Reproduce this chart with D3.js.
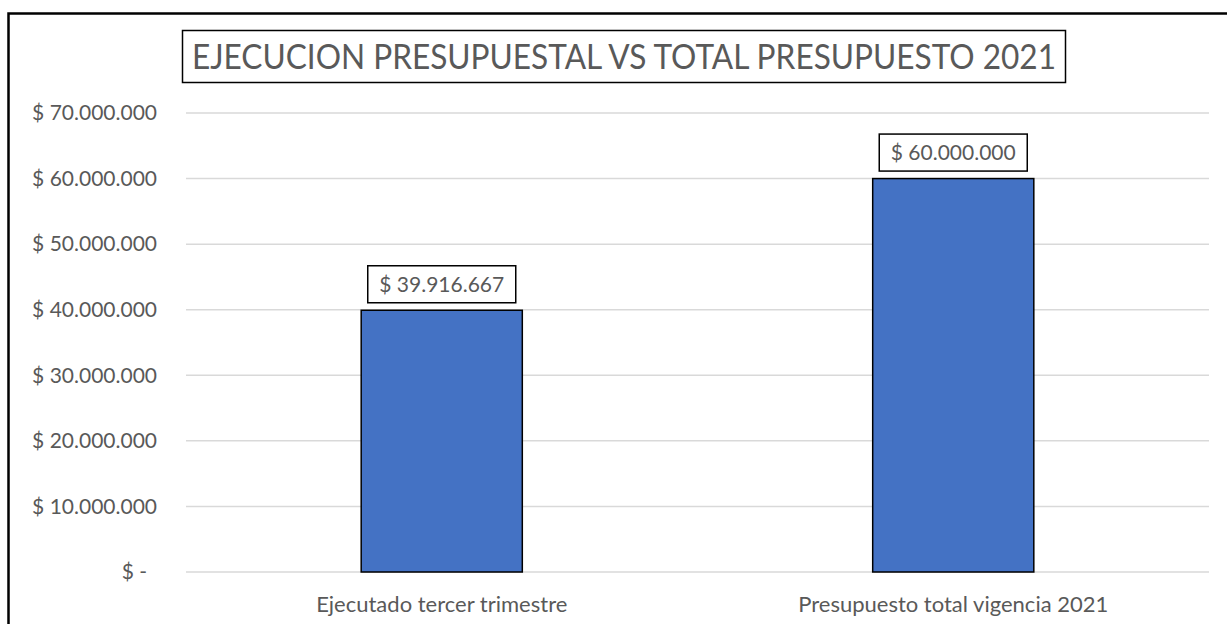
<!DOCTYPE html>
<html>
<head>
<meta charset="utf-8">
<script src="https://cdn.jsdelivr.net/npm/d3@7"></script>
<style>
	body { margin: 0; background: #fff; }
	text { font-family: Lato, "Open Sans", sans-serif; fill: #595959; }
</style>
</head>
<body>
<div id="chart"></div>
<script>
const categories = ['Ejecutado tercer trimestre', 'Presupuesto total vigencia 2021']
const values     = [39916667, 60000000]
const tickValues = [0, 10000000, 20000000, 30000000, 40000000, 50000000, 60000000, 70000000]
const title      = 'EJECUCION PRESUPUESTAL VS TOTAL PRESUPUESTO 2021'

const w = 1227, h = 624
const margin = {top: 113, right: 18, bottom: 52, left: 186}

const svg = d3.select('#chart').append('svg')
	.attr('width', w)
	.attr('height', h)

// outer chart border (runs off the right and bottom edges)
svg.append('rect')
	.attr('x', 8.5).attr('y', 13.5)
	.attr('width', w + 20).attr('height', h + 20)
	.attr('fill', 'none')
	.attr('stroke', '#000')
	.attr('stroke-width', 2.5)

const fmt = v => v === 0 ? '$ -' : '$ ' + d3.format(',')(v).replace(/,/g, '.')

const x = d3.scaleBand()
	.domain(categories)
	.range([margin.left, w - margin.right])
	.paddingInner(0.685)
	.paddingOuter(0.3425)

const y = d3.scaleLinear()
	.domain([0, 70000000])
	.range([h - margin.bottom, margin.top])

// gridlines
svg.append('g')
	.selectAll('line')
	.data(tickValues)
	.join('line')
	.attr('x1', margin.left).attr('x2', w - margin.right)
	.attr('y1', d => y(d)).attr('y2', d => y(d))
	.attr('stroke', '#d9d9d9')
	.attr('stroke-width', 1.5)

// y labels
svg.append('g')
	.selectAll('text')
	.data(tickValues)
	.join('text')
	.attr('x', d => d === 0 ? 147 : 157)
	.attr('y', d => y(d))
	.attr('dy', '0.35em')
	.attr('text-anchor', 'end')
	.style('font-size', '21px')
	.text(fmt)

// bars
svg.append('g')
	.selectAll('rect')
	.data(values)
	.join('rect')
	.attr('x', (d, i) => x(categories[i]))
	.attr('y', d => y(d))
	.attr('width', x.bandwidth())
	.attr('height', d => y(0) - y(d))
	.attr('fill', '#4472c4')
	.attr('stroke', '#000')
	.attr('stroke-width', 1.5)

// data labels in boxes
const lab = svg.append('g')
	.selectAll('g')
	.data(values)
	.join('g')
	.attr('transform', (d, i) => `translate(${x(categories[i]) + x.bandwidth() / 2},${y(d) - 26})`)

lab.append('rect')
	.attr('x', -74).attr('y', -18.5)
	.attr('width', 148).attr('height', 37)
	.attr('fill', '#fff')
	.attr('stroke', '#000')
	.attr('stroke-width', 1.5)

lab.append('text')
	.attr('text-anchor', 'middle')
	.attr('dy', '0.35em')
	.style('font-size', '21px')
	.text(fmt)

// category labels
svg.append('g')
	.selectAll('text')
	.data(categories)
	.join('text')
	.attr('x', d => x(d) + x.bandwidth() / 2)
	.attr('y', 604)
	.attr('dy', '0.35em')
	.attr('text-anchor', 'middle')
	.style('font-size', '22px')
	.text(d => d)

// title box
svg.append('rect')
	.attr('x', 182.5).attr('y', 30.5)
	.attr('width', 883).attr('height', 52)
	.attr('fill', '#fff')
	.attr('stroke', '#000')
	.attr('stroke-width', 1.5)

svg.append('text')
	.attr('x', 624).attr('y', 57)
	.attr('dy', '0.35em')
	.attr('text-anchor', 'middle')
	.attr('textLength', 864)
	.attr('lengthAdjust', 'spacingAndGlyphs')
	.style('font-size', '34px')
	.text(title)
</script>
</body>
</html>
